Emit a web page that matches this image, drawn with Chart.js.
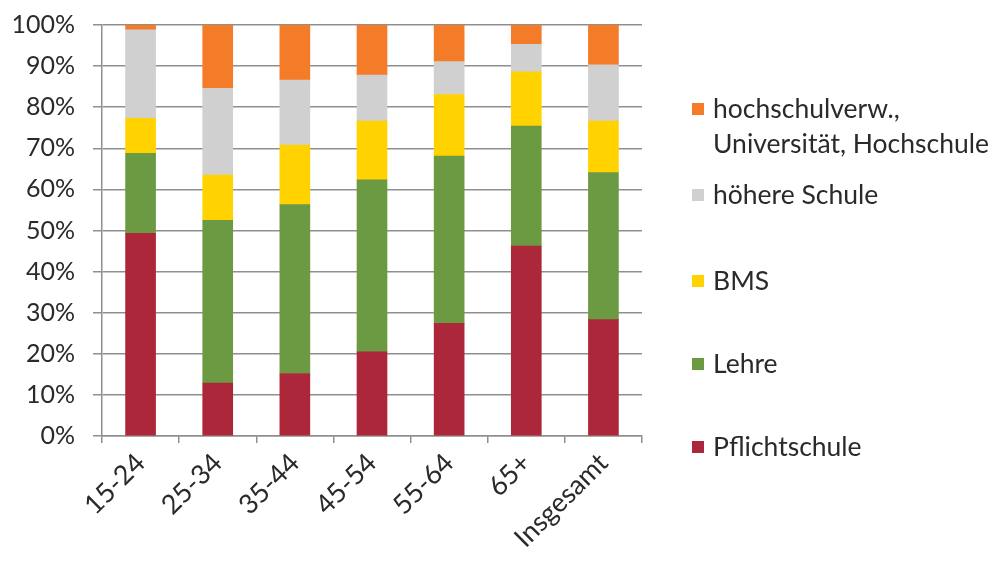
<!DOCTYPE html>
<html>
<head>
<meta charset="utf-8">
<script src="https://cdn.jsdelivr.net/npm/chart.js@4/dist/chart.umd.min.js"></script>
<style>
  html, body { margin: 0; padding: 0; background: #ffffff; }
  #wrap { width: 995px; height: 562px; }
</style>
</head>
<body>
<div id="wrap"><canvas id="c" width="995" height="562"></canvas></div>
<script>
// ---- data ----
const categories = ["15-24", "25-34", "35-44", "45-54", "55-64", "65+", "Insgesamt"];
const pflichtschule = [49.3, 12.9, 15.2, 20.5, 27.4, 46.2, 28.3];
const lehre         = [19.5, 39.6, 41.1, 41.8, 40.7, 29.2, 35.8];
const bms           = [ 8.5, 11.0, 14.5, 14.3, 15.0, 13.2, 12.5];
const hoehereSchule = [21.5, 21.1, 15.8, 11.2,  8.0,  6.7, 13.7];
const hochschule    = [ 1.2, 15.4, 13.4, 12.2,  8.9,  4.7,  9.7];
const seriesNames = [
  ["Pflichtschule"],
  ["Lehre"],
  ["BMS"],
  ["höhere Schule"],
  ["hochschulverw.,", "Universität, Hochschule"]
];
const yTicks = [0, 10, 20, 30, 40, 50, 60, 70, 80, 90, 100];

// ---- styles ----
const colors = ["#AC2739", "#6B9A42", "#FFD200", "#D0D0D0", "#F47B28"];
const FONT = "Lato";
const TEXT = "#2a2a2a";
const GRID = "#8f8f8f";

const seriesValues = [pflichtschule, lehre, bms, hoehereSchule, hochschule];

const legendPlugin = {
  id: "sideLegend",
  afterDraw(chart) {
    const ctx = chart.ctx;
    const ys = [447, 364, 281, 195, 109];
    ctx.save();
    ctx.font = "26.5px " + FONT;
    ctx.textBaseline = "middle";
    ctx.textAlign = "left";
    chart.data.datasets.forEach((ds, i) => {
      const y = ys[i];
      ctx.fillStyle = ds.backgroundColor;
      ctx.fillRect(692, y - 6, 12, 12);
      ctx.fillStyle = TEXT;
      ds.legendLines.forEach((line, k) => {
        ctx.fillText(line, 713, y + k * 35);
      });
    });
    ctx.restore();
  }
};

new Chart(document.getElementById("c"), {
  type: "bar",
  data: {
    labels: categories,
    datasets: seriesValues.map((vals, i) => ({
      label: seriesNames[i].join(" "),
      legendLines: seriesNames[i],
      data: vals,
      backgroundColor: colors[i],
      borderWidth: 0,
      barThickness: 30
    }))
  },
  options: {
    responsive: false,
    animation: false,
    devicePixelRatio: 1,
    layout: { padding: { left: 0, right: 353, top: 25, bottom: 0 } },
    plugins: {
      legend: { display: false },
      tooltip: { enabled: false }
    },
    scales: {
      x: {
        stacked: true,
        afterFit(scale) { scale.height = 126; },
        grid: { display: true, drawOnChartArea: false, drawTicks: true, tickLength: 7, color: GRID, lineWidth: 1.5, offset: true },
        border: { display: true, color: GRID, width: 1.5 },
        ticks: {
          color: TEXT,
          font: { family: FONT, size: 27 },
          minRotation: 45,
          maxRotation: 45,
          padding: 4
        }
      },
      y: {
        stacked: true,
        min: 0,
        max: 100,
        afterFit(scale) { scale.width = 102; scale.paddingTop = 0; scale.paddingBottom = 0; },
        afterBuildTicks(scale) { scale.ticks = yTicks.map(v => ({ value: v })); },
        grid: { color: GRID, lineWidth: 1.5, tickLength: 9 },
        border: { display: true, color: GRID, width: 1.5 },
        ticks: {
          color: TEXT,
          font: { family: FONT, size: 25 },
          padding: 18,
          callback: v => v + "%"
        }
      }
    }
  },
  plugins: [legendPlugin]
});
</script>
</body>
</html>
